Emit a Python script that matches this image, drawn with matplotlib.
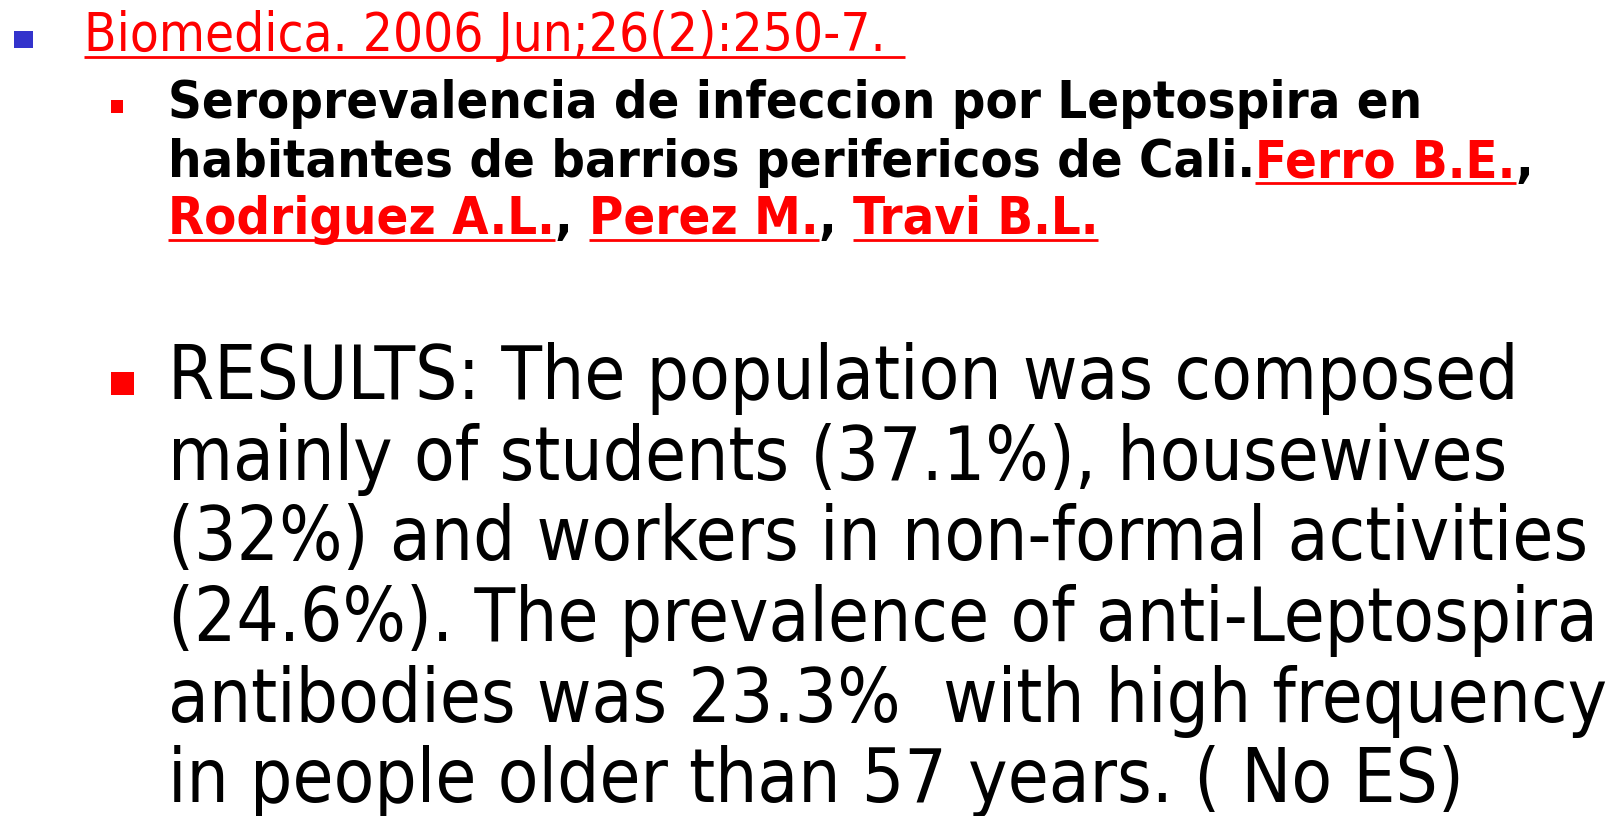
import matplotlib
matplotlib.use("Agg")
import matplotlib.pyplot as plt
from matplotlib.patches import Rectangle
from matplotlib.font_manager import FontProperties, findfont

# ---- content ----
citation = "Biomedica. 2006 Jun;26(2):250-7."
title_lines = [
    [("Seroprevalencia de infeccion por Leptospira en", False)],
    [("habitantes de barrios perifericos de Cali.", False), ("Ferro B.E.", True), (",", False)],
    [("Rodriguez A.L.", True), (", ", False), ("Perez M.", True), (", ", False), ("Travi B.L.", True)],
]
results_lines = [
    "RESULTS: The population was composed",
    "mainly of students (37.1%), housewives",
    "(32%) and workers in non-formal activities",
    "(24.6%). The prevalence of anti-Leptospira",
    "antibodies was 23.3%  with high frequency",
    "in people older than 57 years. ( No ES)",
]

RED = "#FF0000"
BLUE = "#3333CC"

W, H = 1612, 816
fig = plt.figure(figsize=(W / 100, H / 100), dpi=100)
ax = fig.add_axes([0, 0, 1, 1])
ax.set_xlim(0, W)
ax.set_ylim(H, 0)
ax.axis("off")
fig.canvas.draw()
renderer = fig.canvas.get_renderer()


def pick_family(weight):
    fp = FontProperties(family="DejaVu Sans", stretch="condensed", weight=weight)
    path = findfont(fp, fallback_to_default=True)
    return ("condensed" if "Condensed" in path else "normal")


STRETCH_N = pick_family("normal")
STRETCH_B = pick_family("bold")


def width(s, size, weight, stretch):
    t = ax.text(0, 0, s, fontsize=size, fontweight=weight, family="DejaVu Sans",
                fontstretch=stretch)
    w = t.get_window_extent(renderer).width
    t.remove()
    return w


def adv(s, size, weight, stretch):
    return width("|" + s + "|", size, weight, stretch) - width("||", size, weight, stretch)


def fit(s, target, weight, stretch, base=40):
    return base * target / adv(s, base, weight, stretch)


# ---- bullets ----
ax.add_patch(Rectangle((14, 31), 19, 17, color=BLUE, lw=0))
ax.add_patch(Rectangle((111, 100), 12, 13, color=RED, lw=0))
ax.add_patch(Rectangle((111, 372), 23, 23, color=RED, lw=0))

# ---- citation line ----
cs = fit(citation, 800, "normal", STRETCH_N)
ax.text(84, 51, citation, fontsize=cs, color=RED, family="DejaVu Sans",
        fontstretch=STRETCH_N, va="baseline", ha="left")
ax.plot([84, 905], [57, 57], color=RED, lw=2.0, solid_capstyle="butt")

# ---- bold title ----
ts = fit(title_lines[0][0][0], 1253, "bold", STRETCH_B)
title_base = [118, 177, 234]
for segs, yb in zip(title_lines, title_base):
    x = 168
    for s, is_link in segs:
        col = RED if is_link else "black"
        ax.text(x, yb, s, fontsize=ts, fontweight="bold", color=col, family="DejaVu Sans",
                fontstretch=STRETCH_B, va="baseline", ha="left")
        a = adv(s, ts, "bold", STRETCH_B)
        if is_link:
            ax.plot([x, x + a], [yb + 6, yb + 6], color=RED, lw=2.0, solid_capstyle="butt")
        x += a

# ---- results ----
rs = fit(results_lines[0], 1350, "normal", STRETCH_N)
res_base = [399, 480, 560, 641, 722, 802]
for s, yb in zip(results_lines, res_base):
    ax.text(168, yb, s, fontsize=rs, color="black", family="DejaVu Sans",
            fontstretch=STRETCH_N, va="baseline", ha="left")

fig.savefig("out.png", dpi=100, facecolor="white")
